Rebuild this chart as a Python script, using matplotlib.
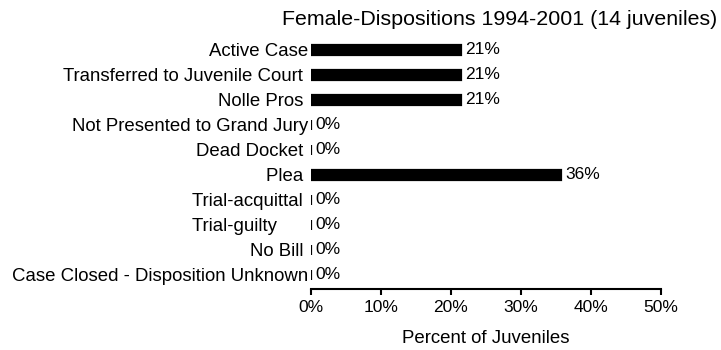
import numpy as np
import matplotlib
matplotlib.use("Agg")
import matplotlib.pyplot as plt

plt.rcParams['font.family'] = ['Liberation Sans', 'DejaVu Sans']

categories = [
    "Active Case",
    "Transferred to Juvenile Court ",
    "Nolle Pros ",
    "Not Presented to Grand Jury",
    "Dead Docket ",
    "Plea ",
    "Trial-acquittal ",
    "Trial-guilty      ",
    "No Bill ",
    "Case Closed - Disposition Unknown",
]
counts = [3, 3, 3, 0, 0, 5, 0, 0, 0, 0]
total_juveniles = 14
x_ticks = [0, 10, 20, 30, 40, 50]

percents = np.array(counts) / total_juveniles * 100

fig = plt.figure(figsize=(7.21, 3.5), dpi=100)
ax = fig.add_axes([0.4313, 0.1743, 0.4855, 0.7187])

y = np.arange(len(categories))
ax.barh(y, percents, height=0.40, color="black", edgecolor="black", linewidth=1.6)

for yi, p in zip(y, percents):
    ax.text(p + 0.6, yi, f"{p:.0f}%", va="center", ha="left", fontsize=12.5)

ax.set_xlim(0, 50)
ax.set_ylim(len(categories) - 0.44, -0.5)
ax.set_yticks(y)
ax.set_yticklabels(categories, fontsize=13.4)
ax.tick_params(axis="y", length=0, pad=2)
ax.set_xticks(x_ticks)
ax.set_xticklabels([f"{t}%" for t in x_ticks], fontsize=12.5)
ax.tick_params(axis="x", direction="out", length=4, width=1.5, pad=4)

for side in ("top", "right", "left"):
    ax.spines[side].set_visible(False)
ax.spines["bottom"].set_linewidth(1.5)

ax.set_xlabel("Percent of Juveniles", fontsize=13.4, labelpad=11)
fig.text(0.995, 0.943, f"Female-Dispositions 1994-2001 ({total_juveniles} juveniles)",
         ha="right", va="center", fontsize=15.4)

fig.savefig("out.png", dpi=100)
